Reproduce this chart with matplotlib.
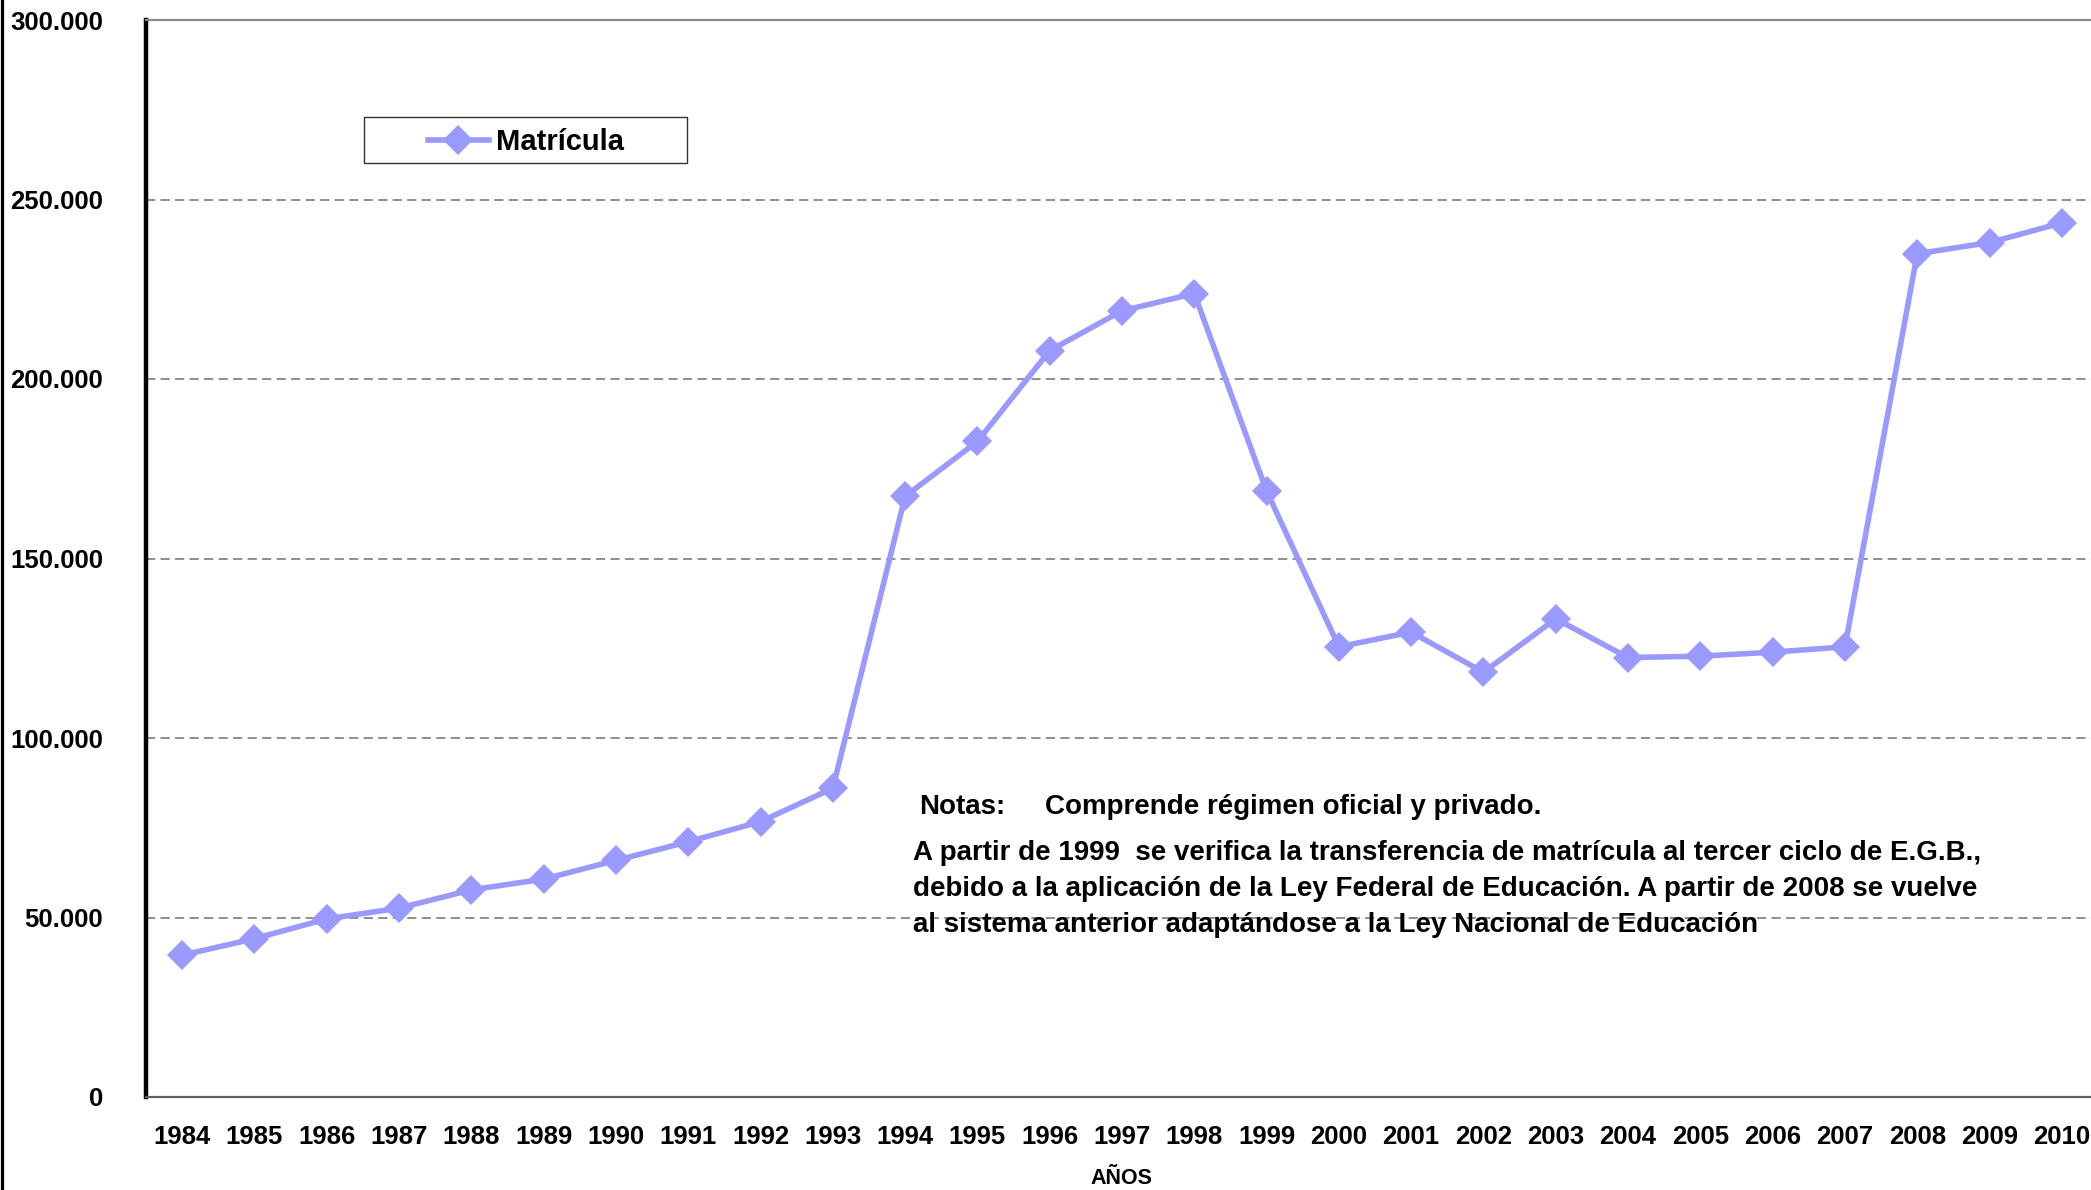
import matplotlib
matplotlib.use("Agg")
import matplotlib.pyplot as plt
from matplotlib.lines import Line2D
from matplotlib.patches import Rectangle

plt.rcParams['font.family'] = ['Liberation Sans', 'DejaVu Sans']
plt.rcParams['font.weight'] = 'bold'

years = [str(y) for y in range(1984, 2011)]
matricula = [39500, 44100, 49600, 52600, 57700, 60700, 65900, 71100, 76700, 86000,
             167300, 182600, 207900, 219000, 223800, 168800, 125400, 129500, 118300,
             133200, 122400, 122800, 123900, 125400, 234900, 238000, 243500]
yticks = [0, 50000, 100000, 150000, 200000, 250000, 300000]
ytick_labels = ['0', '50.000', '100.000', '150.000', '200.000', '250.000', '300.000']
series_name = 'Matrícula'
xlabel = 'AÑOS'
note_head = 'Notas:'
note_1 = 'Comprende régimen oficial y privado.'
note_2 = ('A partir de 1999  se verifica la transferencia de matrícula al tercer ciclo de E.G.B.,\n'
          'debido a la aplicación de la Ley Federal de Educación. A partir de 2008 se vuelve\n'
          'al sistema anterior adaptándose a la Ley Nacional de Educación')

W, H = 2091, 1190
fig = plt.figure(figsize=(W / 100, H / 100), dpi=100)
left, right, top, bottom = 146, 2098, 20, 1097
ax = fig.add_axes([left / W, 1 - bottom / H, (right - left) / W, (bottom - top) / H])

x = list(range(len(years)))
ax.plot(x, matricula, color='#9999FF', lw=4, marker='D', ms=15,
        markeredgewidth=0, label=series_name, zorder=3)

ax.set_xlim(-0.5, len(years) - 0.5)
ax.set_ylim(0, 300000)
ax.set_yticks(yticks)
ax.set_yticklabels(ytick_labels)
ax.set_xticks(x)
ax.set_xticklabels(years)
ax.tick_params(axis='y', length=0, pad=31, labelsize=18.5)
ax.tick_params(axis='x', length=0, pad=20, labelsize=18.5)
for lab in ax.get_xticklabels() + ax.get_yticklabels():
    lab.set_fontweight('bold')

for v in yticks[1:-1]:
    ax.axhline(v, color='#707070', lw=1.1, ls=(0, (6, 3.5)), zorder=1)

ax.spines['left'].set_linewidth(3.2)
ax.spines['left'].set_color('black')
ax.spines['bottom'].set_linewidth(1.6)
ax.spines['bottom'].set_color('#606060')
ax.spines['top'].set_linewidth(1.6)
ax.spines['top'].set_color('#8a8a8a')
ax.spines['right'].set_visible(False)

fig.text(1121 / W, 1 - 1179 / H, xlabel, ha='center', va='center',
         fontsize=15.5, fontweight='bold')

# legend box
ax.add_patch(Rectangle((364 / W, 1 - 163 / H), (687 - 364) / W, (163 - 117) / H,
                       transform=fig.transFigure, facecolor='white',
                       edgecolor='#333333', lw=1.0, zorder=5, clip_on=False))
leg = ax.legend(loc='center', bbox_to_anchor=(526 / W, 1 - 142.5 / H),
                bbox_transform=fig.transFigure, frameon=False,
                prop={'size': 21, 'weight': 'bold'}, handlelength=2.1,
                handletextpad=0.25, borderpad=0, numpoints=1)
leg.set_zorder(6)

fig.text(919 / W, 1 - 807 / H, note_head, ha='left', va='center',
         fontsize=20, fontweight='bold')
fig.text(1045 / W, 1 - 807 / H, note_1, ha='left', va='center',
         fontsize=20, fontweight='bold')
fig.text(913 / W, 1 - 889 / H, note_2, ha='left', va='center',
         fontsize=20, fontweight='bold', linespacing=1.52)

fig.add_artist(Line2D([1.5 / W, 1.5 / W], [0, 1], transform=fig.transFigure,
                      color='black', lw=2.3))

fig.savefig('out.png', dpi=100, facecolor='white')
